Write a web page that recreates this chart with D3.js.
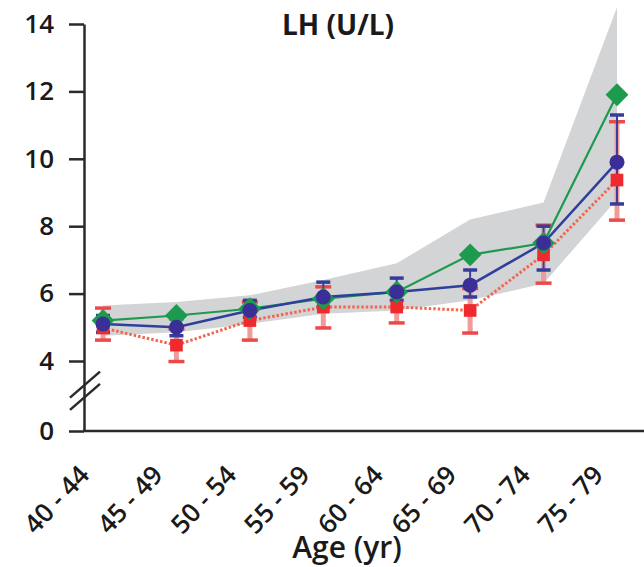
<!DOCTYPE html>
<html>
<head>
<meta charset="utf-8">
<script src="https://cdn.jsdelivr.net/npm/d3@7"></script>
<style>
  body { margin: 0; background: #fff; }
  svg text { font-family: "Open Sans", "Liberation Sans", sans-serif; fill: #1a1a1a; }
</style>
</head>
<body>
<div id="chart"></div>
<script>
"use strict";

// age groups on the x axis
const ages = ["40 - 44", "45 - 49", "50 - 54", "55 - 59", "60 - 64", "65 - 69", "70 - 74", "75 - 79"];
const yTicks = [0, 4, 6, 8, 10, 12, 14];

// grey reference band (lower / upper)
const bandLow  = [4.75, 4.85, 5.1, 5.4, 5.5, 5.8, 6.3, 8.8];
const bandHigh = [5.65, 5.75, 5.95, 6.4, 6.9, 8.2, 8.7, 14.5];

// green series (diamonds)
const greenVals = [5.2, 5.35, 5.55, 5.85, 6.05, 7.15, 7.5, 11.9];

// blue series (circles) with error range
const blueVals = [5.1, 5.0, 5.5, 5.9, 6.05, 6.25, 7.5, 9.9];
const blueLow  = [4.85, 4.75, 5.3, 5.6, 5.8, 5.9, 6.7, 8.66];
const blueHigh = [5.35, 5.25, 5.8, 6.34, 6.46, 6.7, 8.0, 11.3];

// red series (squares, dotted line) with error range
const redVals = [4.98, 4.47, 5.2, 5.6, 5.6, 5.5, 7.15, 9.37];
const redLow  = [4.62, 3.97, 4.62, 4.98, 5.13, 4.83, 6.31, 8.18];
const redHigh = [5.57, 4.95, 5.75, 6.2, 6.0, 6.15, 8.03, 11.1];

const width = 644, height = 567;

const svg = d3.select("#chart").append("svg")
    .attr("width", width)
    .attr("height", height);

const x = d3.scalePoint().domain(ages).range([103, 617]);
// broken axis: 0..4 squeezed, 4..14 linear
const y = d3.scaleLinear().domain([0, 4, 14]).range([431, 361, 24]);

const rows = ages.map((a, i) => ({
    age: a,
    bl: bandLow[i], bh: bandHigh[i],
    g: greenVals[i],
    b: blueVals[i], b0: blueLow[i], b1: blueHigh[i],
    r: redVals[i], r0: redLow[i], r1: redHigh[i]
}));

// grey band
svg.append("path")
    .datum(rows)
    .attr("fill", "#d3d4d6")
    .attr("d", d3.area()
        .x(d => x(d.age))
        .y0(d => y(d.bl))
        .y1(d => y(d.bh)));

// red error bars
const redBars = svg.append("g").selectAll("g").data(rows).enter().append("g");
redBars.append("line")
    .attr("x1", d => x(d.age)).attr("x2", d => x(d.age))
    .attr("y1", d => y(d.r0)).attr("y2", d => y(d.r1))
    .attr("stroke", "#f29a98").attr("stroke-width", 5);
["r0", "r1"].forEach(k => {
    redBars.append("line")
        .attr("x1", d => x(d.age) - 8).attr("x2", d => x(d.age) + 8)
        .attr("y1", d => y(d[k])).attr("y2", d => y(d[k]))
        .attr("stroke", "#ec4a4a").attr("stroke-width", 3.5);
});

// blue error bars
const blueBars = svg.append("g").selectAll("g").data(rows).enter().append("g");
blueBars.append("line")
    .attr("x1", d => x(d.age)).attr("x2", d => x(d.age))
    .attr("y1", d => y(d.b0)).attr("y2", d => y(d.b1))
    .attr("stroke", "#3a3f9e").attr("stroke-width", 2);
["b0", "b1"].forEach(k => {
    blueBars.append("line")
        .attr("x1", d => x(d.age) - 7).attr("x2", d => x(d.age) + 7)
        .attr("y1", d => y(d[k])).attr("y2", d => y(d[k]))
        .attr("stroke", "#353c9c").attr("stroke-width", 3.5);
});

// lines
svg.append("path").datum(rows)
    .attr("fill", "none").attr("stroke", "#f2674f").attr("stroke-width", 3)
    .attr("stroke-dasharray", "2.5,2")
    .attr("d", d3.line().x(d => x(d.age)).y(d => y(d.r)));
svg.append("path").datum(rows)
    .attr("fill", "none").attr("stroke", "#1e9a4f").attr("stroke-width", 2.2)
    .attr("d", d3.line().x(d => x(d.age)).y(d => y(d.g)));
svg.append("path").datum(rows)
    .attr("fill", "none").attr("stroke", "#2f3f9c").attr("stroke-width", 2.5)
    .attr("d", d3.line().x(d => x(d.age)).y(d => y(d.b)));

// markers: red, then green diamonds, blue circles on top
svg.append("g").selectAll("path").data(rows).enter().append("path")
    .attr("transform", d => "translate(" + [x(d.age), y(d.r)] + ")")
    .attr("d", d3.symbol().type(d3.symbolSquare).size(160))
    .attr("fill", "#ee2a2e");
svg.append("g").selectAll("path").data(rows).enter().append("path")
    .attr("transform", d => "translate(" + [x(d.age), y(d.g)] + ") rotate(45)")
    .attr("d", d3.symbol().type(d3.symbolSquare).size(260))
    .attr("fill", "#1e9a4f");
svg.append("g").selectAll("circle").data(rows).enter().append("circle")
    .attr("cx", d => x(d.age)).attr("cy", d => y(d.b)).attr("r", 7.5)
    .attr("fill", "#3a2f96");

// y axis
const yAxis = svg.append("g")
    .attr("transform", "translate(84,0)")
    .call(d3.axisLeft(y).tickValues(yTicks).tickSize(15).tickSizeOuter(0).tickPadding(15).tickFormat(d3.format("d")));
yAxis.selectAll("path, line").attr("stroke", "#2a2a2a").attr("stroke-width", 2.5);
yAxis.selectAll("text")
    .style("font-size", "26px").style("font-weight", 600).attr("fill", "#1a1a1a");

// axis break marks
[2.65, 1.95].forEach(v => {
    svg.append("line")
        .attr("x1", 70).attr("y1", y(v) + 13)
        .attr("x2", 100).attr("y2", y(v) - 13)
        .attr("stroke", "#2a2a2a").attr("stroke-width", 2.5);
});

// x axis
svg.append("line")
    .attr("x1", 83).attr("x2", width)
    .attr("y1", y(0)).attr("y2", y(0))
    .attr("stroke", "#2a2a2a").attr("stroke-width", 2.5);
svg.append("g").selectAll("text").data(ages).enter().append("text")
    .attr("transform", d => "translate(" + [x(d) - 12, 476] + ") rotate(-47)")
    .attr("text-anchor", "end")
    .style("font-size", "26px").style("font-weight", 600)
    .text(d => d);

svg.append("text")
    .attr("x", 347).attr("y", 558)
    .attr("text-anchor", "middle")
    .style("font-size", "30px").style("font-weight", 600)
    .text("Age (yr)");

// title
svg.append("text")
    .attr("x", 338).attr("y", 35)
    .attr("text-anchor", "middle")
    .style("font-size", "28px").style("font-weight", 700)
    .text("LH (U/L)");
</script>
</body>
</html>
